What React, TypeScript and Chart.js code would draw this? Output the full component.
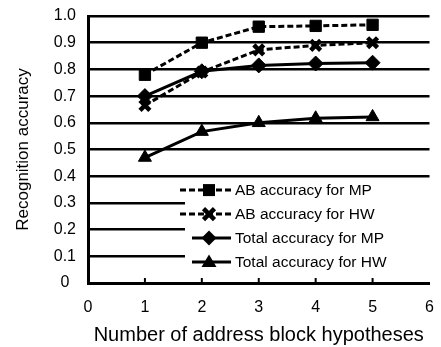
import React, { useEffect, useRef } from 'react';
import { Chart, registerables } from 'chart.js';

Chart.register(...registerables);

const xValues = [1, 2, 3, 4, 5];
const abAccuracyMP = [0.78, 0.9, 0.96, 0.963, 0.967];
const abAccuracyHW = [0.665, 0.79, 0.873, 0.89, 0.9];
const totalAccuracyMP = [0.7, 0.793, 0.815, 0.822, 0.825];
const totalAccuracyHW = [0.47, 0.567, 0.6, 0.617, 0.622];
const seriesLabels = ['AB accuracy for MP', 'AB accuracy for HW', 'Total accuracy for MP', 'Total accuracy for HW'];
const xTitle = 'Number of address block hypotheses';
const yTitle = 'Recognition accuracy';

const FONT = "'Liberation Sans', Arial, sans-serif";

type Marker = 'square' | 'cross' | 'diamond' | 'triangle';

function drawMarker(ctx: CanvasRenderingContext2D, m: Marker, x: number, y: number) {
  ctx.save();
  ctx.fillStyle = '#000';
  ctx.strokeStyle = '#000';
  ctx.setLineDash([]);
  ctx.beginPath();
  if (m === 'square') {
    ctx.fillRect(x - 6, y - 6, 12, 12);
  } else if (m === 'cross') {
    ctx.lineWidth = 4.5;
    ctx.moveTo(x - 5.5, y - 5.5);
    ctx.lineTo(x + 5.5, y + 5.5);
    ctx.moveTo(x - 5.5, y + 5.5);
    ctx.lineTo(x + 5.5, y - 5.5);
    ctx.stroke();
  } else if (m === 'diamond') {
    ctx.moveTo(x, y - 7.5);
    ctx.lineTo(x + 7.5, y);
    ctx.lineTo(x, y + 7.5);
    ctx.lineTo(x - 7.5, y);
    ctx.closePath();
    ctx.fill();
  } else {
    ctx.moveTo(x, y - 7.5);
    ctx.lineTo(x + 7.5, y + 5);
    ctx.lineTo(x - 7.5, y + 5);
    ctx.closePath();
    ctx.fill();
  }
  ctx.restore();
}

export default function App() {
  const ref = useRef<HTMLCanvasElement>(null);
  useEffect(() => {
    document.body.style.margin = '0';
    const canvas = ref.current!;
    const pts = (arr: number[]) => xValues.map((x, i) => ({ x, y: arr[i] }));

    const markers: Marker[] = ['square', 'cross', 'diamond', 'triangle'];
    const dashes = [[6, 3], [6, 3], [], []];

    const legendPlugin = {
      id: 'insideLegend',
      beforeDatasetsDraw(chart: any) {
        const ctx: CanvasRenderingContext2D = chart.ctx;
        const area = chart.chartArea;
        const ys = chart.scales.y;
        const top = ys.getPixelForValue(0.385);
        const bottom = ys.getPixelForValue(0.02);
        const left = area.left + 97;
        ctx.save();
        ctx.fillStyle = '#fff';
        ctx.fillRect(left, top, area.right - left + 2, bottom - top);
        const y0 = ys.getPixelForValue(0.348);
        for (let i = 0; i < 4; i++) {
          const cy = y0 + i * 24;
          const lineStart = i < 2 ? left - 5 : left + 7;
          ctx.strokeStyle = '#000';
          ctx.lineWidth = 3;
          ctx.setLineDash(dashes[i]);
          ctx.beginPath();
          ctx.moveTo(lineStart, cy);
          ctx.lineTo(left + 46, cy);
          ctx.stroke();
          drawMarker(ctx, markers[i], left + 24, cy);
          ctx.fillStyle = '#000';
          ctx.font = `15.5px ${FONT}`;
          ctx.textBaseline = 'middle';
          ctx.textAlign = 'left';
          ctx.fillText(seriesLabels[i], left + 50, cy + 1);
        }
        // inward tick marks on x axis
        ctx.setLineDash([]);
        ctx.lineWidth = 2;
        for (const v of xValues) {
          const px = chart.scales.x.getPixelForValue(v);
          ctx.beginPath();
          ctx.moveTo(px, area.bottom);
          ctx.lineTo(px, area.bottom - 5);
          ctx.stroke();
        }
        ctx.restore();
      },
    };

    const chart = new Chart(canvas, {
      type: 'line',
      data: {
        datasets: [
          {
            label: seriesLabels[0], data: pts(abAccuracyMP), borderColor: '#000', backgroundColor: '#000',
            borderWidth: 3, borderDash: [6, 3], pointStyle: 'rect', pointRadius: 8, pointBorderWidth: 1, tension: 0,
          },
          {
            label: seriesLabels[1], data: pts(abAccuracyHW), borderColor: '#000', backgroundColor: '#000',
            borderWidth: 3, borderDash: [6, 3], pointStyle: 'crossRot', pointRadius: 7, pointBorderWidth: 4.5, tension: 0,
          },
          {
            label: seriesLabels[2], data: pts(totalAccuracyMP), borderColor: '#000', backgroundColor: '#000',
            borderWidth: 3, pointStyle: 'rectRot', pointRadius: 7.5, pointBorderWidth: 1, tension: 0,
          },
          {
            label: seriesLabels[3], data: pts(totalAccuracyHW), borderColor: '#000', backgroundColor: '#000',
            borderWidth: 3, pointStyle: 'triangle', pointRadius: 7.5, pointBorderWidth: 1, tension: 0,
          },
        ],
      },
      options: {
        animation: false,
        responsive: false,
        devicePixelRatio: 1,
        layout: { padding: { top: 16, left: 0, right: 0, bottom: 0 } },
        plugins: { legend: { display: false }, tooltip: { enabled: false } },
        scales: {
          x: {
            type: 'linear', min: 0, max: 6,
            ticks: { stepSize: 1, color: '#000', font: { family: FONT, size: 16 }, padding: 15, maxRotation: 0 },
            grid: { display: false, drawTicks: false },
            border: { display: true, color: '#000', width: 3 },
            title: { display: true, text: xTitle, color: '#000', font: { family: FONT, size: 20 }, padding: { top: -2, bottom: 0 } },
            afterFit: (s: any) => { s.height = 64; s.paddingLeft = 0; s.paddingRight = 0; },
          },
          y: {
            min: 0, max: 1,
            ticks: {
              stepSize: 0.1, color: '#000', font: { family: FONT, size: 16 }, padding: 12, crossAlign: 'center',
              callback: (v: any) => { const r = Math.round(Number(v) * 10) / 10; return r === 0 ? '0' : r.toFixed(1); },
            },
            grid: { color: '#000', lineWidth: 2.5, drawTicks: false },
            border: { display: true, color: '#000', width: 3 },
            title: { display: true, text: yTitle, color: '#000', font: { family: FONT, size: 17 }, padding: { top: 13, bottom: 0 } },
            afterFit: (s: any) => { s.width = 88; s.paddingTop = 0; s.paddingBottom = 0; },
          },
        },
      },
      plugins: [legendPlugin],
    } as any);
    return () => chart.destroy();
  }, []);
  return (
    <div style={{ position: 'absolute', left: 0, top: 0, width: 441, height: 347 }}>
      <canvas ref={ref} width={441} height={347} style={{ display: 'block', width: 441, height: 347 }} />
    </div>
  );
}
